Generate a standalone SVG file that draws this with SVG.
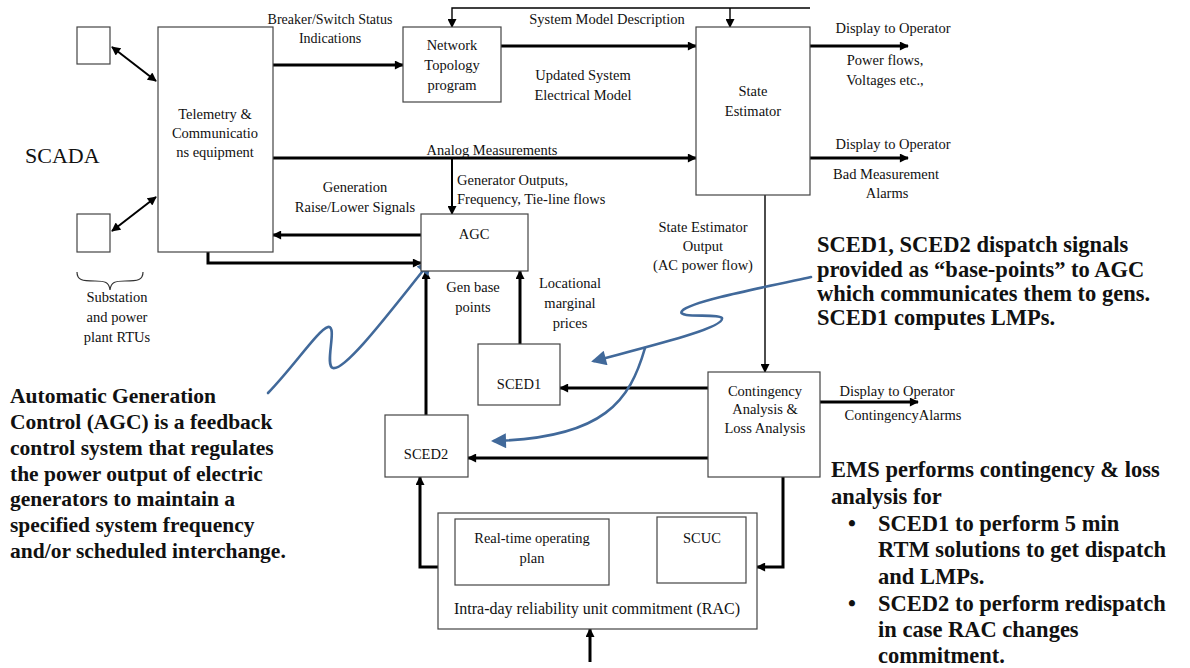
<svg xmlns="http://www.w3.org/2000/svg" width="1190" height="668" viewBox="0 0 1190 668" font-family="Liberation Serif, DejaVu Serif, serif">
<defs>
<style>
.box{fill:#fff;stroke:#444;stroke-width:1.2}
text{font-family:"Liberation Serif","DejaVu Serif",serif}
.t{font-size:14.5px;fill:#111;text-anchor:middle}
.ts{font-size:14.5px;fill:#111}
.big{font-weight:bold;fill:#111}
.thick{fill:none;stroke:#000;stroke-width:3}
.mid{fill:none;stroke:#000;stroke-width:2}
.thin{fill:none;stroke:#000;stroke-width:1.4}
.blue{fill:none;stroke:#41699a;stroke-width:2.6;stroke-linecap:round}
</style>
<marker id="ah" viewBox="0 0 10 10" refX="9" refY="5" markerWidth="10" markerHeight="9" markerUnits="userSpaceOnUse" orient="auto-start-reverse"><path d="M0,0 L10,5 L0,10 z" fill="#000"/></marker>
<marker id="bh" viewBox="0 0 10 10" refX="8" refY="5" markerWidth="18" markerHeight="15" markerUnits="userSpaceOnUse" orient="auto"><path d="M0,0 L10,5 L0,10 z" fill="#41699a"/></marker>
</defs>
<rect width="1190" height="668" fill="#fff"/>

<g id="connectors">
<line class="mid" x1="112" y1="47" x2="156" y2="81" marker-start="url(#ah)" marker-end="url(#ah)"/>
<line class="mid" x1="112" y1="231" x2="156" y2="197" marker-start="url(#ah)" marker-end="url(#ah)"/>
<line class="thick" x1="273" y1="65" x2="403" y2="65" marker-end="url(#ah)"/>
<polyline class="thin" points="810,8 452,8 452,27" marker-end="url(#ah)"/>
<line class="thin" x1="730" y1="8" x2="730" y2="27" marker-end="url(#ah)"/>
<line class="thick" x1="501" y1="46" x2="696" y2="46" marker-end="url(#ah)"/>
<line class="thick" x1="273" y1="158" x2="696" y2="158" marker-end="url(#ah)"/>
<line class="mid" x1="452" y1="158" x2="452" y2="214" marker-end="url(#ah)"/>
<line class="thick" x1="421" y1="235" x2="273" y2="235" marker-end="url(#ah)"/>
<polyline class="thick" points="208,252 208,263 421,263" marker-end="url(#ah)"/>
<line class="thick" x1="810" y1="46" x2="908" y2="46" marker-end="url(#ah)"/>
<line class="thick" x1="810" y1="158" x2="908" y2="158" marker-end="url(#ah)"/>
<line class="thin" x1="765" y1="195" x2="765" y2="372" marker-end="url(#ah)"/>
<line class="thick" x1="820" y1="402" x2="918" y2="402" marker-end="url(#ah)"/>
<line class="thick" x1="708" y1="388" x2="560" y2="388" marker-end="url(#ah)"/>
<line class="thick" x1="708" y1="458" x2="468" y2="458" marker-end="url(#ah)"/>
<line class="thick" x1="520" y1="344" x2="520" y2="271" marker-end="url(#ah)"/>
<line class="thick" x1="426" y1="415" x2="426" y2="271" marker-end="url(#ah)"/>
<polyline class="thick" points="783,477 783,567 757,567" marker-end="url(#ah)"/>
<polyline class="thick" points="438,567 420,567 420,477" marker-end="url(#ah)"/>
<line class="thick" x1="657" y1="553" x2="609" y2="553" marker-end="url(#ah)"/>
<line class="thick" x1="590" y1="662" x2="590" y2="629" marker-end="url(#ah)"/>
<path class="blue" d="M268,393 C295,365 318,330 328,327 C338,325 324,366 333,368 C346,371 395,305 430,262" marker-end="url(#bh)"/>
<path class="blue" d="M811,277 C750,290 690,302 682,311 C676,319 718,313 722,318 C725,328 650,346 594,361" marker-end="url(#bh)"/>
<path class="blue" d="M645,348 C630,400 605,438 494,441" marker-end="url(#bh)"/>
<path fill="none" stroke="#333" stroke-width="1.2" d="M77,272 C77,280 82,281 95,281 C105,281 109,282 110,290 C111,282 115,281 125,281 C138,281 143,280 143,272"/>
</g>

<g id="rtu1"><rect class="box" x="77" y="27" width="33" height="37"/></g>
<g id="rtu2"><rect class="box" x="77" y="214" width="33" height="38"/></g>
<g id="telemetry"><rect class="box" x="158" y="27" width="115" height="225"/>
<text class="t" x="215" y="119">Telemetry &amp;</text><text class="t" x="215" y="138">Communicatio</text><text class="t" x="215" y="157">ns equipment</text></g>
<g id="topology"><rect class="box" x="403" y="27" width="98" height="75"/>
<text class="t" x="452" y="50">Network</text><text class="t" x="452" y="70">Topology</text><text class="t" x="452" y="90">program</text></g>
<g id="state-estimator"><rect class="box" x="696" y="27" width="114" height="168"/>
<text class="t" x="753" y="96">State</text><text class="t" x="753" y="116">Estimator</text></g>
<g id="agc"><rect class="box" x="421" y="214" width="107" height="57"/><text class="t" x="474" y="239">AGC</text></g>
<g id="sced1"><rect class="box" x="478" y="344" width="82" height="61"/><text class="t" x="519" y="389">SCED1</text></g>
<g id="sced2"><rect class="box" x="385" y="415" width="83" height="62"/><text class="t" x="426" y="459">SCED2</text></g>
<g id="contingency"><rect class="box" x="708" y="372" width="112" height="105"/>
<text class="t" x="765" y="396">Contingency</text><text class="t" x="765" y="414">Analysis &amp;</text><text class="t" x="765" y="433">Loss Analysis</text></g>
<g id="rac"><rect class="box" x="438" y="513" width="319" height="116"/>
<text class="t" x="597" y="614" style="font-size:16px">Intra-day reliability unit commitment (RAC)</text></g>
<g id="rtop"><rect class="box" x="455" y="519" width="154" height="66"/>
<text class="t" x="532" y="543">Real-time operating</text><text class="t" x="532" y="563">plan</text></g>
<g id="scuc"><rect class="box" x="657" y="517" width="89" height="66"/><text class="t" x="702" y="543">SCUC</text></g>

<g id="labels">
<text class="ts" x="25" y="163" style="font-size:22px">SCADA</text>
<text class="t" x="330" y="24" style="font-size:14px">Breaker/Switch Status</text>
<text class="t" x="330" y="43" style="font-size:14px">Indications</text>
<text class="t" x="607" y="24">System Model Description</text>
<text class="t" x="583" y="80">Updated System</text>
<text class="t" x="583" y="100">Electrical Model</text>
<text class="t" x="492" y="155">Analog Measurements</text>
<text class="ts" x="457" y="185">Generator Outputs,</text>
<text class="ts" x="457" y="204">Frequency, Tie-line flows</text>
<text class="t" x="355" y="192">Generation</text>
<text class="t" x="355" y="212">Raise/Lower Signals</text>
<text class="t" x="893" y="33">Display to Operator</text>
<text class="t" x="885" y="65">Power flows,</text>
<text class="t" x="885" y="85">Voltages etc.,</text>
<text class="t" x="893" y="149">Display to Operator</text>
<text class="t" x="886" y="179">Bad Measurement</text>
<text class="t" x="887" y="198">Alarms</text>
<text class="t" x="703" y="232">State Estimator</text>
<text class="t" x="703" y="251">Output</text>
<text class="t" x="703" y="270">(AC power flow)</text>
<text class="t" x="473" y="292">Gen base</text>
<text class="t" x="473" y="312">points</text>
<text class="t" x="570" y="288">Locational</text>
<text class="t" x="570" y="308">marginal</text>
<text class="t" x="570" y="328">prices</text>
<text class="t" x="897" y="396">Display to Operator</text>
<text class="t" x="903" y="420">ContingencyAlarms</text>
<text class="t" x="117" y="302">Substation</text>
<text class="t" x="117" y="322">and power</text>
<text class="t" x="117" y="342">plant RTUs</text>
</g>

<g id="notes">
<text class="big" style="font-size:22.5px" x="817">
<tspan x="817" y="252">SCED1, SCED2 dispatch signals</tspan>
<tspan x="817" y="277">provided as “base-points” to AGC</tspan>
<tspan x="817" y="301">which communicates them to gens.</tspan>
<tspan x="817" y="325">SCED1 computes LMPs.</tspan>
</text>
<text class="big" style="font-size:21.5px">
<tspan x="10" y="403">Automatic Generation</tspan>
<tspan x="10" y="429">Control (AGC) is a feedback</tspan>
<tspan x="10" y="455">control system that regulates</tspan>
<tspan x="10" y="481">the power output of electric</tspan>
<tspan x="10" y="506">generators to maintain a</tspan>
<tspan x="10" y="532">specified system frequency</tspan>
<tspan x="10" y="558">and/or scheduled interchange.</tspan>
</text>
<text class="big" style="font-size:22.5px">
<tspan x="831" y="477">EMS performs contingency &amp; loss</tspan>
<tspan x="831" y="504">analysis  for</tspan>
<tspan x="848" y="531">•</tspan><tspan x="878" y="531">SCED1 to perform 5 min</tspan>
<tspan x="878" y="557">RTM solutions  to get dispatch</tspan>
<tspan x="878" y="584">and LMPs.</tspan>
<tspan x="848" y="611">•</tspan><tspan x="878" y="611">SCED2 to perform redispatch</tspan>
<tspan x="878" y="637">in case RAC changes</tspan>
<tspan x="878" y="663">commitment.</tspan>
</text>
</g>
</svg>
